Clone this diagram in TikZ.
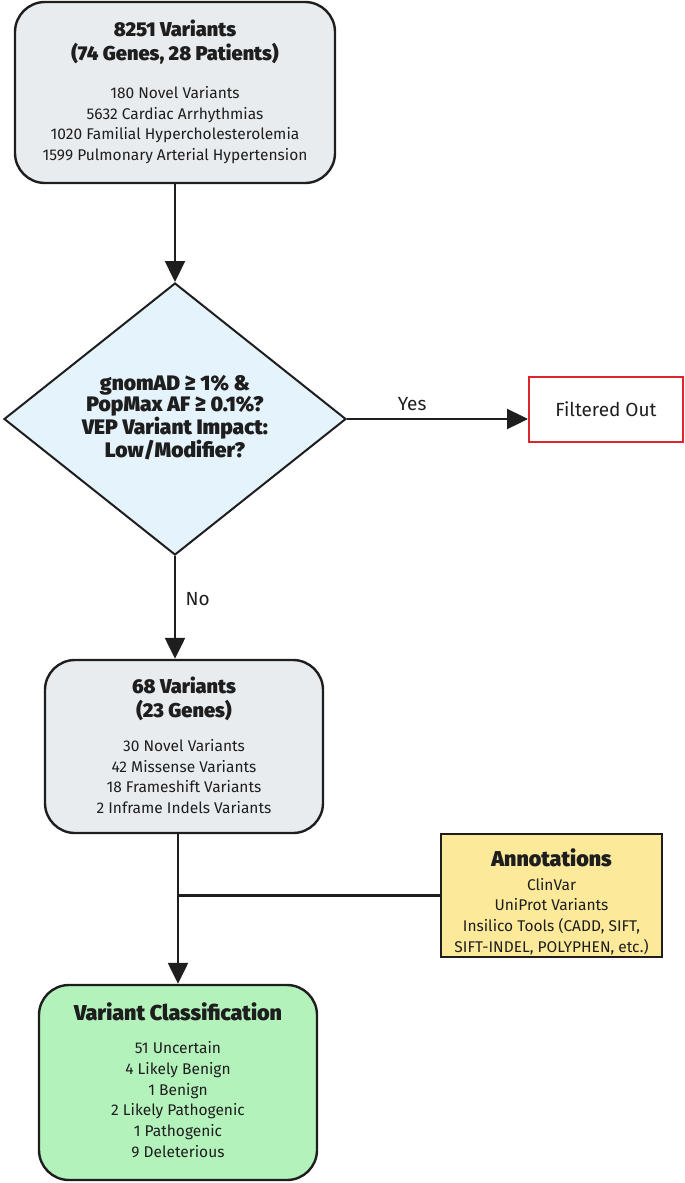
\documentclass[tikz,border=0pt]{standalone}
\usepackage{fontspec}
\setmainfont{Fira Sans}
\newfontfamily\headfam{Fira Sans}[BoldFont={Fira Sans Black}]
\usetikzlibrary{arrows.meta,shapes.geometric}

\definecolor{boxgrey}{HTML}{E9ECEF}
\definecolor{diamblue}{HTML}{E5F3FC}
\definecolor{classgreen}{HTML}{B4F2BC}
\definecolor{annyellow}{HTML}{FCEA9A}
\definecolor{outred}{HTML}{E0242C}
\definecolor{ink}{HTML}{1E1E1E}

\tikzset{
  headtxt/.style={text=ink,align=center,font=\headfam\fontsize{20}{24}\selectfont\bfseries},
  bighead/.style={text=ink,align=center,font=\headfam\fontsize{21.5}{24}\selectfont\bfseries},
  bodytxt/.style={text=ink,align=center,font=\fontsize{15.5}{20.7}\selectfont},
  labeltxt/.style={text=ink,align=center,font=\fontsize{19}{22}\selectfont},
  roundbox/.style={draw=ink,line width=2.4pt,rounded corners=30pt,inner sep=0pt},
  flowarrow/.style={draw=ink,line width=2.4pt,-{Triangle[length=21pt,width=20pt]}},
  flowline/.style={draw=ink,line width=2.4pt}
}

\begin{document}
\begin{tikzpicture}[x=1pt,y=-1pt]
\useasboundingbox (0,0) rectangle (685,1183);

\node[roundbox,fill=boxgrey,minimum width=320pt,minimum height=181pt] (start) at (175,92.5) {};
\node[headtxt] (starthead) at (175,42) {8251 Variants\\ (74 Genes, 28 Patients)};
\node[bodytxt] (startbody) at (175,125) {180 Novel Variants\\ 5632 Cardiac Arrhythmias\\
  1020 Familial Hypercholesterolemia\\ 1599 Pulmonary Arterial Hypertension};

\node[diamond,draw=ink,line width=2pt,fill=diamblue,minimum width=342pt,minimum height=272pt,
  inner sep=0pt] (filter) at (175,419) {};
\node[headtxt,font=\headfam\fontsize{21}{20.7}\selectfont\bfseries] (filtertxt) at (175,418)
  {gnomAD ≥ 1\% \&\\ PopMax AF ≥ 0.1\%?\\ VEP Variant Impact:\\ Low/Modifier?};

\node[labeltxt,draw=outred,line width=2pt,fill=white,minimum width=154pt,minimum height=65pt]
  (out) at (606,409.5) {Filtered Out};

\node[roundbox,fill=boxgrey,minimum width=278pt,minimum height=173pt] (kept) at (184,746.5) {};
\node[headtxt] (kepthead) at (184,698.5) {68 Variants\\ (23 Genes)};
\node[bodytxt] (keptbody) at (184,776.5) {30 Novel Variants\\ 42 Missense Variants\\
  18 Frameshift Variants\\ 2 Inframe Indels Variants};

\node[draw=ink,line width=2.4pt,fill=annyellow,minimum width=221pt,minimum height=123pt] (annot) at (551.5,895.5) {};
\node[bighead] (annothead) at (551.5,858) {Annotations};
\node[bodytxt] (annotbody) at (551.5,916.5) {ClinVar\\ UniProt Variants\\
  Insilico Tools (CADD, SIFT,\\ SIFT-INDEL, POLYPHEN, etc.)};

\node[roundbox,fill=classgreen,minimum width=278pt,minimum height=195pt] (class) at (178,1082.5) {};
\node[bighead] (classhead) at (178,1012) {Variant Classification};
\node[bodytxt] (classbody) at (178,1099.5) {51 Uncertain\\ 4 Likely Benign\\ 1 Benign\\
  2 Likely Pathogenic\\ 1 Pathogenic\\ 9 Deleterious};

\draw[flowarrow] (start.south) -- (filter.north);
\draw[flowarrow] (filter.east) -- (filter.east -| out.west) node[labeltxt,pos=0.36,above=4pt] {Yes};
\draw[flowarrow] (filter.south) -- (filter.south |- kept.north) node[labeltxt,pos=0.42,right=6pt] {No};
\draw[flowarrow] (class.north |- kept.south) -- (class.north);
\draw[flowline] (annot.west) -- (annot.west -| class.north);

\end{tikzpicture}
\end{document}
